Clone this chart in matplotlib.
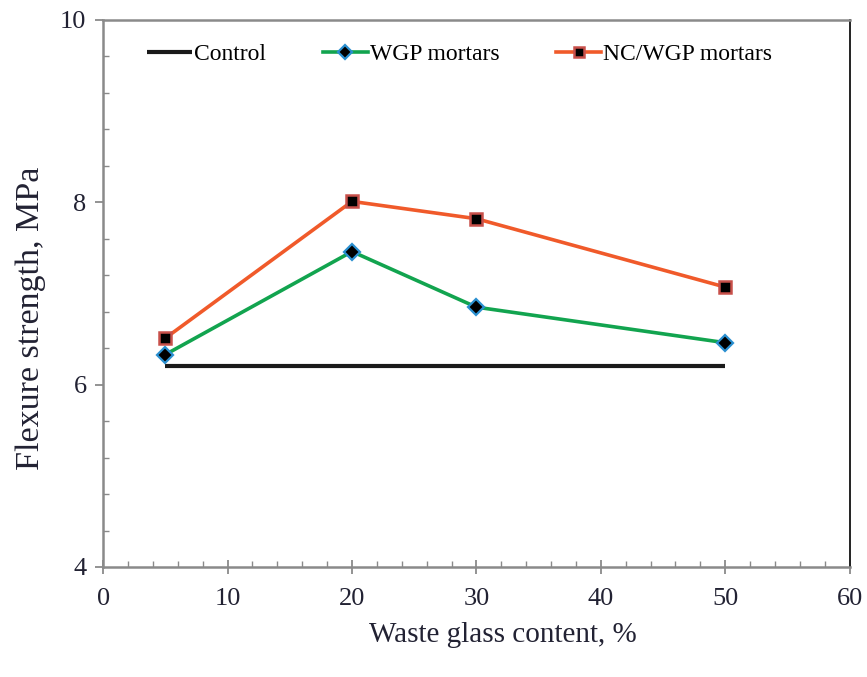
import numpy as np
import matplotlib
matplotlib.use('Agg')
import matplotlib.pyplot as plt
from matplotlib.ticker import MultipleLocator

# ---- data ----
x_control = [5, 50]
y_control = [6.2, 6.2]

x_glass = [5, 20, 30, 50]
y_wgp = [6.33, 7.46, 6.85, 6.46]
y_ncwgp = [6.51, 8.01, 7.82, 7.07]

plt.rcParams['font.family'] = ['Liberation Serif', 'DejaVu Serif']

fig = plt.figure(figsize=(8.67, 6.77), dpi=100)
ax = fig.add_axes([0.119, 0.1625, 0.861, 0.808])

ax.plot(x_control, y_control, color='#1a1a1a', lw=3.0, label='Control',
        solid_capstyle='butt', zorder=2)
ax.plot(x_glass, y_wgp, color='#12a44f', lw=2.6, marker='D', markersize=8.5,
        markerfacecolor='black', markeredgecolor='#2a8fd0', markeredgewidth=1.6,
        label='WGP mortars', zorder=3)
ax.plot(x_glass, y_ncwgp, color='#f05a2a', lw=2.6, marker='s', markersize=9,
        markerfacecolor='black', markeredgecolor='#c8504a', markeredgewidth=1.8,
        label='NC/WGP mortars', zorder=3)

ax.set_xlim(0, 60)
ax.set_ylim(4, 10)
ax.xaxis.set_major_locator(MultipleLocator(10))
ax.xaxis.set_minor_locator(MultipleLocator(2))
ax.yaxis.set_major_locator(MultipleLocator(2))
ax.yaxis.set_minor_locator(MultipleLocator(0.4))

gray = '#8a8a8a'
for side in ['left', 'bottom', 'top']:
    ax.spines[side].set_color(gray)
    ax.spines[side].set_linewidth(1.8)
ax.spines['right'].set_color('#222222')
ax.spines['right'].set_linewidth(1.4)

ax.tick_params(which='major', direction='out', length=6, width=1.3,
               color=gray, labelsize=19, labelcolor='#222233', pad=6)
ax.tick_params(which='minor', direction='in', length=4, width=1.0, color=gray)
ax.tick_params(axis='x', which='major', direction='inout', length=10, pad=10)
ax.tick_params(top=False, right=False, which='both')

ax.set_xlabel('Waste glass content, %', fontsize=21, color='#222233')
ax.set_ylabel('Flexure strength, MPa', fontsize=24.5, color='#222233')
ax.xaxis.set_label_coords(0.535, -0.101)
ax.yaxis.set_label_coords(-0.077, 0.455)

ax.legend(loc='upper left', bbox_to_anchor=(0.03, 0.995), ncol=3, frameon=False,
          fontsize=17, handlelength=1.9, handletextpad=0.1, columnspacing=2.4,
          markerscale=0.85)

fig.savefig('out.png', dpi=100)
